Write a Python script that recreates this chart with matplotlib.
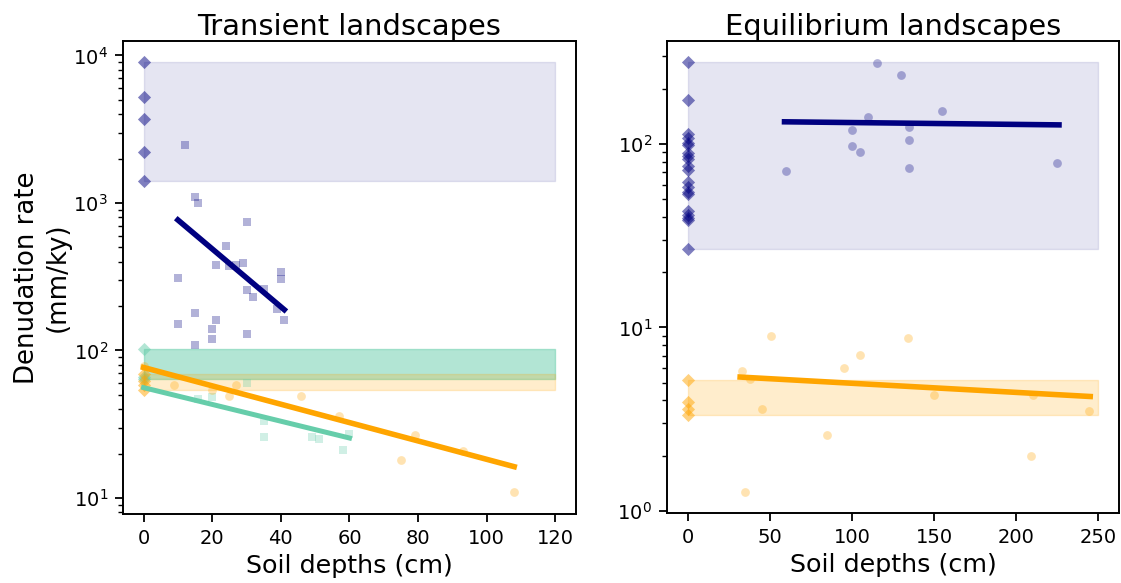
import numpy as np
import matplotlib.pyplot as plt

# ---------------- transient landscapes (left) ----------------
# equilibrium reference rates plotted at depth 0 (diamonds) -> shaded bands
tr_blue_ref = [9000, 5200, 3700, 2200, 1400]
tr_green_ref = [102, 66, 64]
tr_orange_ref = [69, 62, 58, 54]

# soil depth (cm) vs denudation rate (mm/ky)
tr_blue_x = [12, 15, 16, 30, 24, 21, 25, 27, 29, 40, 40, 10, 30, 32, 35,
             39, 41, 15, 10, 21, 20, 20, 30, 15]
tr_blue_y = [2460, 1100, 1000, 740, 510, 378, 372, 378, 391, 341, 304, 312,
             259, 230, 262, 190, 160, 179, 150, 160, 140, 119, 130, 109]

tr_green_x = [30, 16, 20, 35, 35, 49, 51, 60, 58]
tr_green_y = [60, 47, 48, 33, 26, 26, 25, 27, 21]

tr_orange_x = [0, 9, 20, 27, 25, 46, 57, 79, 75, 93, 108]
tr_orange_y = [79, 58.6, 54, 58, 49.5, 49.5, 35.7, 26.8, 18.0, 20.9, 10.9]

# exponential trend lines (end points)
tr_blue_fit_x = [10, 41]
tr_blue_fit_y = [767, 189]
tr_green_fit_x = [0, 60]
tr_green_fit_y = [56, 25.5]
tr_orange_fit_x = [0, 108]
tr_orange_fit_y = [76.7, 16.3]

# ---------------- equilibrium landscapes (right) ----------------
eq_blue_ref = [279, 173, 113, 108, 101, 99, 89, 86, 83, 76, 72, 62, 58.6,
               55, 53.5, 43, 41, 39.7, 38.6, 26.8]
eq_orange_ref = [5.14, 3.94, 3.61, 3.33]

eq_blue_x = [115, 130, 155, 110, 100, 135, 135, 100, 105, 135, 60, 225]
eq_blue_y = [275, 237, 151, 141, 119, 123, 105, 97, 90, 74, 71, 79]

eq_orange_x = [51, 134, 105, 95, 33, 38, 45, 150, 210, 85, 209, 35, 244]
eq_orange_y = [9.0, 8.8, 7.1, 6.0, 5.8, 5.2, 3.6, 4.3, 4.3, 2.6, 2.0, 1.27, 3.5]

eq_blue_fit_x = [59, 226]
eq_blue_fit_y = [132, 127]
eq_orange_fit_x = [32, 245]
eq_orange_fit_y = [5.36, 4.2]

band_x_tr = [0, 120]
band_x_eq = [0, 250]

plt.rcParams['axes.linewidth'] = 1.4
for a in ('xtick', 'ytick'):
    plt.rcParams[a + '.major.size'] = 5.8
    plt.rcParams[a + '.minor.size'] = 3.3
    plt.rcParams[a + '.major.width'] = 1.3
    plt.rcParams[a + '.minor.width'] = 1.0
    plt.rcParams[a + '.major.pad'] = 5
    plt.rcParams[a + '.labelsize'] = 14

fig = plt.figure(figsize=(11.21, 5.83), dpi=100)
ax1 = fig.add_axes([0.1097, 0.1184, 0.4041, 0.8118])
ax2 = fig.add_axes([0.595, 0.1196, 0.4032, 0.8106])

NAVY = 'navy'
GREEN = 'mediumaquamarine'
ORANGE = 'orange'


def band(ax, xr, vals, color, alpha):
    lo, hi = min(vals), max(vals)
    ax.fill_between(xr, [lo, lo], [hi, hi], color=color, alpha=alpha, zorder=1)
    ax.scatter(np.zeros(len(vals)), vals, marker='D', s=45, color=color,
               alpha=0.5, linewidths=0, zorder=2)


# left panel
band(ax1, band_x_tr, tr_blue_ref, NAVY, 0.1)
band(ax1, band_x_tr, tr_green_ref, GREEN, 0.5)
band(ax1, band_x_tr, tr_orange_ref, ORANGE, 0.2)
ax1.scatter(tr_blue_x, tr_blue_y, marker='s', s=40, color=NAVY, alpha=0.3,
            linewidths=0, zorder=3)
ax1.scatter(tr_green_x, tr_green_y, marker='s', s=40, color=GREEN, alpha=0.3,
            linewidths=0, zorder=3)
ax1.scatter(tr_orange_x, tr_orange_y, marker='o', s=40, color=ORANGE, alpha=0.3,
            linewidths=0, zorder=3)
ax1.plot(tr_blue_fit_x, tr_blue_fit_y, color=NAVY, lw=4, zorder=4)
ax1.plot(tr_green_fit_x, tr_green_fit_y, color=GREEN, lw=3.6, zorder=4)
ax1.plot(tr_orange_fit_x, tr_orange_fit_y, color=ORANGE, lw=4, zorder=4)
ax1.set_yscale('log')
ax1.set_title('Transient landscapes', fontsize=20.8, pad=1)
ax1.set_xlabel('Soil depths (cm)', fontsize=18.3)
ax1.set_ylabel('Denudation rate\n(mm/ky)', fontsize=18.7, labelpad=2)

# right panel
band(ax2, band_x_eq, eq_blue_ref, NAVY, 0.1)
band(ax2, band_x_eq, eq_orange_ref, ORANGE, 0.2)
ax2.scatter(eq_blue_x, eq_blue_y, marker='o', s=40, color=NAVY, alpha=0.3,
            linewidths=0, zorder=3)
ax2.scatter(eq_orange_x, eq_orange_y, marker='o', s=40, color=ORANGE, alpha=0.3,
            linewidths=0, zorder=3)
ax2.plot(eq_blue_fit_x, eq_blue_fit_y, color=NAVY, lw=4, zorder=4)
ax2.plot(eq_orange_fit_x, eq_orange_fit_y, color=ORANGE, lw=4, zorder=4)
ax2.set_yscale('log')
ax2.set_title('Equilibrium landscapes', fontsize=20.8, pad=1)
ax2.set_xlabel('Soil depths (cm)', fontsize=18.3)

fig.savefig('out.png', dpi=100)
